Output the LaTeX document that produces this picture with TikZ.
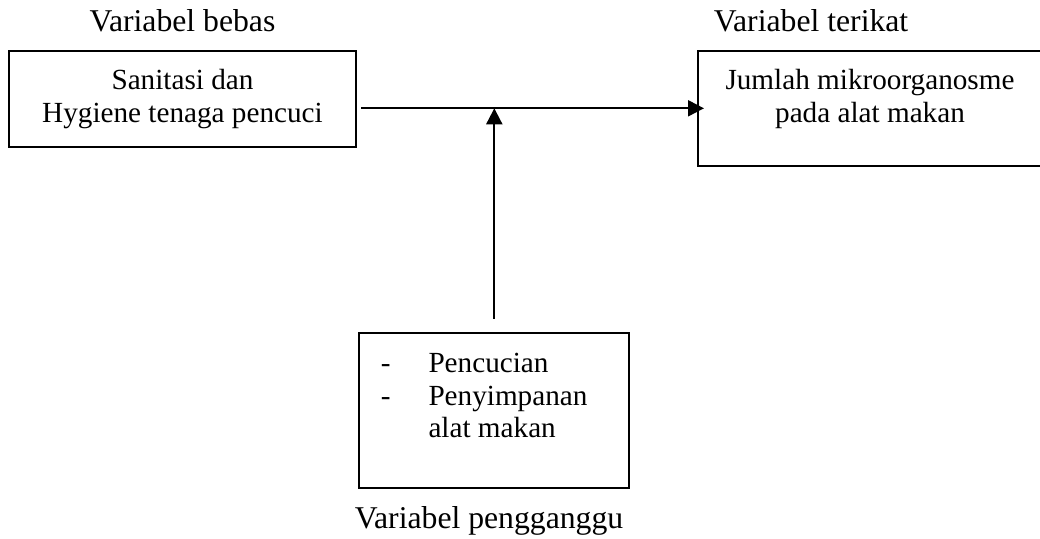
\documentclass[tikz,border=0pt]{standalone}
\usepackage{fontspec}
\setmainfont{Liberation Serif}
\usetikzlibrary{arrows.meta}
\begin{document}
\begin{tikzpicture}[x=1pt,y=-1pt,
  box/.style={draw, line width=2pt, inner sep=0pt},
  boxtext/.style={inner sep=0pt, anchor=base, font=\fontsize{29.2}{32.7}\selectfont},
  vlabel/.style={inner sep=0pt, anchor=base, font=\fontsize{31.7}{36}\selectfont},
  arr/.style={line width=2pt, -{Triangle[length=16pt,width=16pt]}}
]
\clip (0,0) rectangle (1040,538);
% boxes
\node[box, minimum width=347pt, minimum height=96pt] (lb) at (182.5,98.7) {};
\node[box, minimum width=347pt, minimum height=115pt] (rb) at (871.5,108.2) {};
\node[box, minimum width=270pt, minimum height=154.7pt] (bb) at (494.3,410.3) {};
% box texts
\node[boxtext] (lbt) at (182.5,89.3) {\begin{tabular}[t]{@{}c@{}}Sanitasi dan\\Hygiene tenaga pencuci\end{tabular}};
\node[boxtext] (rbt) at (870,89.3) {\begin{tabular}[t]{@{}c@{}}Jumlah mikroorganosme\\pada alat makan\end{tabular}};
\node[boxtext, anchor=base west] (bbt) at (380.7,372.3) {\begin{tabular}[t]{@{}p{47.6pt}@{}l@{}}-&Pencucian\\-&Penyimpanan\\&alat makan\end{tabular}};
% labels
\node[vlabel] (l1) at (182.5,31.7) {Variabel bebas};
\node[vlabel] (l2) at (811,31.7) {Variabel terikat};
\node[vlabel] (l3) at (489,528.3) {Variabel pengganggu};
% connectors
\coordinate (j) at (494.3,108.3);
\path (rb.west |- j) ++(7,0) coordinate (rt);
\draw[arr, shorten <=4pt] (lb.east |- j) -- (rt);
\draw[arr] ([yshift=13pt]bb.north) -- (j);
\end{tikzpicture}
\end{document}
